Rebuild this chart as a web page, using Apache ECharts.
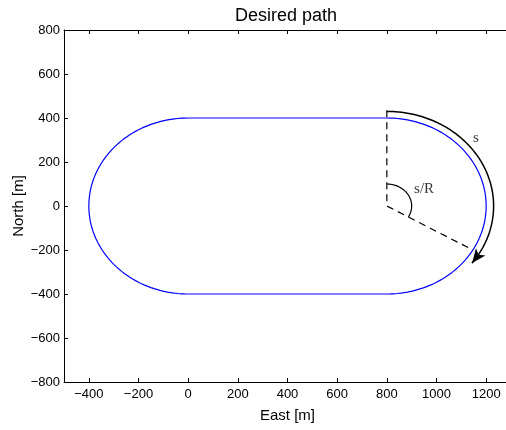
<!DOCTYPE html>
<html>
<head>
<meta charset="utf-8">
<script src="https://cdn.jsdelivr.net/npm/echarts@6/dist/echarts.min.js"></script>
<style>
  html, body { margin: 0; padding: 0; background: #fff; }
  #chart { width: 506px; height: 430px; }
</style>
</head>
<body>
<div id="chart"></div>
<script>
// axis ticks
var xTicks = [-400, -200, 0, 200, 400, 600, 800, 1000, 1200];
var yTicks = [-800, -600, -400, -200, 0, 200, 400, 600, 800];

// stadium path: two half circles joined by straight legs
var pathRadius = 400;
var leftCenter = [0, 0];
var rightCenter = [800, 0];

// annotation geometry
var dashTop = [800, 435];
var angleEnd = -30;        // degrees, end of s/R
var smallArcRadius = 100;
var arrowRadius = 430;
var arrowEndAngle = -37;
var textLabels = [
  { name: 's', value: [1159, 311] },
  { name: 's/R', value: [950, 75] }
];

function arc(c, r, a0, a1, n) {
  var pts = [];
  for (var i = 0; i <= n; i++) {
    var a = (a0 + (a1 - a0) * i / n) * Math.PI / 180;
    pts.push([c[0] + r * Math.cos(a), c[1] + r * Math.sin(a)]);
  }
  return pts;
}

var path = []
  .concat([[leftCenter[0], pathRadius]])
  .concat(arc(rightCenter, pathRadius, 90, -90, 90))
  .concat(arc(leftCenter, pathRadius, -90, -270, 90));

var rad = angleEnd * Math.PI / 180;
var dashed = [dashTop, rightCenter,
  [rightCenter[0] + pathRadius * Math.cos(rad), rightCenter[1] + pathRadius * Math.sin(rad)]];

var smallArc = arc(rightCenter, smallArcRadius, 90, angleEnd, 40);
var arrowArc = arc(rightCenter, arrowRadius, 90, arrowEndAngle, 80);
var arrowFrom = arrowArc[arrowArc.length - 4];
var arrowTo = arrowArc[arrowArc.length - 1];

function minus(v) { return String(v).replace('-', '\u2212'); }

var chart = echarts.init(document.getElementById('chart'));
chart.setOption({
  animation: false,
  title: {
    text: 'Desired path',
    left: 230, top: 2,
    textStyle: { fontFamily: 'Liberation Sans', fontSize: 18, fontWeight: 'normal', color: '#000' }
  },
  grid: { left: 64, top: 30, width: 447, height: 352, outerBoundsMode: 'none', containLabel: false },
  xAxis: [{
    type: 'value', min: -500, max: 1300,
    name: 'East [m]', nameLocation: 'middle', nameGap: 26,
    nameTextStyle: { fontFamily: 'Liberation Sans', fontSize: 15, color: '#000' },
    axisLine: { show: true, onZero: false, lineStyle: { color: '#000', width: 1 } },
    axisTick: { show: true, inside: true, length: 4, customValues: xTicks, lineStyle: { color: '#000' } },
    axisLabel: { customValues: xTicks, formatter: minus, margin: 6,
      fontFamily: 'Liberation Sans', fontSize: 13, color: '#000' },
    splitLine: { show: false }
  }, {
    type: 'value', min: -500, max: 1300, position: 'top',
    axisLine: { show: true, onZero: false, lineStyle: { color: '#000', width: 1 } },
    axisTick: { show: true, inside: true, length: 4, customValues: xTicks, lineStyle: { color: '#000' } },
    axisLabel: { show: false },
    splitLine: { show: false }
  }],
  yAxis: {
    type: 'value', min: -800, max: 800, interval: 200,
    name: 'North [m]', nameLocation: 'middle', nameGap: 38, nameMoveOverlap: false,
    nameTextStyle: { fontFamily: 'Liberation Sans', fontSize: 15, color: '#000' },
    axisLine: { show: true, onZero: false, lineStyle: { color: '#000', width: 1 } },
    axisTick: { show: true, inside: true, length: 4, lineStyle: { color: '#000' } },
    axisLabel: { formatter: minus, margin: 4,
      fontFamily: 'Liberation Sans', fontSize: 13, color: '#000' },
    splitLine: { show: false }
  },
  series: [{
    type: 'line', data: path, showSymbol: false,
    lineStyle: { color: '#0000ff', width: 1.2 }
  }, {
    type: 'line', data: dashed, showSymbol: false,
    lineStyle: { color: '#000', width: 1.2, type: [7, 5] }
  }, {
    type: 'line', data: smallArc, showSymbol: false,
    lineStyle: { color: '#000', width: 1.2 }
  }, {
    type: 'line', data: arrowArc, showSymbol: false,
    lineStyle: { color: '#000', width: 1.5 },
    markLine: {
      silent: true, symbol: ['none', 'arrow'], symbolSize: [9, 14],
      label: { show: false },
      lineStyle: { color: '#000', width: 1.5, type: 'solid' },
      data: [[{ coord: arrowFrom }, { coord: arrowTo }]]
    }
  }, {
    type: 'scatter', symbolSize: 0, data: textLabels,
    label: { show: true, position: 'inside', formatter: '{b}',
      fontFamily: 'Liberation Serif', fontSize: 15, color: '#000' }
  }]
});
</script>
</body>
</html>
